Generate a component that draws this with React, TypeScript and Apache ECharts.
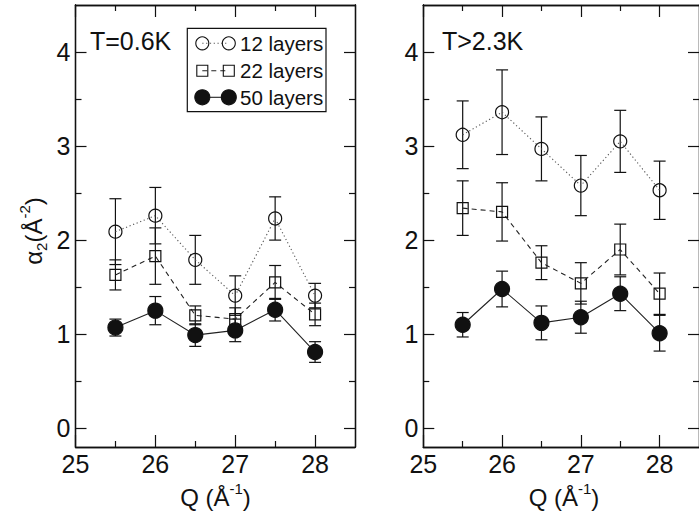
import React, { useEffect, useRef } from "react";
import * as echarts from "echarts";

const qValues = [25.5, 26, 26.5, 27, 27.5, 28];

// T = 0.6 K
const low12 = [2.09, 2.26, 1.79, 1.41, 2.23, 1.41];
const lowErr12 = [0.35, 0.3, 0.26, 0.21, 0.23, 0.13];
const low22 = [1.63, 1.83, 1.2, 1.16, 1.55, 1.21];
const lowErr22 = [0.16, 0.3, 0.1, 0.12, 0.18, 0.12];
const low50 = [1.07, 1.25, 0.99, 1.04, 1.26, 0.81];
const lowErr50 = [0.09, 0.15, 0.12, 0.12, 0.12, 0.11];

// T > 2.3 K
const high12 = [3.12, 3.36, 2.97, 2.58, 3.05, 2.53];
const highErr12 = [0.36, 0.45, 0.34, 0.32, 0.33, 0.31];
const high22 = [2.34, 2.3, 1.76, 1.54, 1.9, 1.43];
const highErr22 = [0.29, 0.31, 0.18, 0.22, 0.27, 0.22];
const high50 = [1.1, 1.48, 1.12, 1.18, 1.43, 1.01];
const highErr50 = [0.13, 0.19, 0.18, 0.17, 0.18, 0.19];

const xMajor = [25, 26, 27, 28];
const xMinor = [25.5, 26.5, 27.5];
const yMajor = [0, 1, 2, 3, 4];
const yMinor = [0.5, 1.5, 2.5, 3.5];
const panelLabels = ["T=0.6K", "T>2.3K"];
const seriesNames = ["12 layers", "22 layers", "50 layers"];

const FONT = "Liberation Sans, Arial, Helvetica, sans-serif";
const INK = "#111";

export default function App() {
  const ref = useRef<HTMLDivElement>(null);
  useEffect(() => {
    if (!ref.current) return;
    const chart = echarts.init(ref.current, undefined, { renderer: "svg" });

    const grids = [
      { left: 75.5, top: 5, width: 279.5, height: 442 },
      { left: 423.3, top: 5, width: 280, height: 442 },
    ];

    const xAxes: any[] = [];
    const yAxes: any[] = [];
    const mkX = (g: number, pos: string, ticks: number[], len: number, labels: boolean) => ({
      type: "value",
      gridIndex: g,
      position: pos,
      min: 25,
      max: 28.5,
      axisLine: { show: true, onZero: false, lineStyle: { color: INK, width: 1.3 } },
      axisTick: { show: true, inside: true, length: len, customValues: ticks, lineStyle: { color: INK, width: 1.2 } },
      axisLabel: {
        show: labels,
        customValues: ticks,
        margin: 4,
        fontSize: 25,
        fontFamily: FONT,
        color: INK,
      },
      splitLine: { show: false },
    });
    const mkY = (g: number, pos: string, ticks: number[], len: number, labels: boolean) => ({
      type: "value",
      gridIndex: g,
      position: pos,
      min: -0.2,
      max: 4.5,
      axisLine: { show: true, onZero: false, lineStyle: { color: INK, width: 1.3 } },
      axisTick: { show: true, inside: true, length: len, customValues: ticks, lineStyle: { color: INK, width: 1.2 } },
      axisLabel: {
        show: labels,
        customValues: ticks,
        margin: 5,
        fontSize: 25,
        fontFamily: FONT,
        color: INK,
      },
      splitLine: { show: false },
    });

    for (let g = 0; g < 2; g++) {
      xAxes.push(mkX(g, "bottom", xMajor, 12, true));
      xAxes.push(mkX(g, "bottom", xMinor, 6, false));
      xAxes.push(mkX(g, "top", xMajor, 12, false));
      xAxes.push(mkX(g, "top", xMinor, 6, false));
      yAxes.push(mkY(g, "left", yMajor, 11, true));
      yAxes.push(mkY(g, "left", yMinor, 6, false));
      yAxes.push(mkY(g, "right", yMajor, 11, false));
      yAxes.push(mkY(g, "right", yMinor, 6, false));
    }

    const panels = [
      { vals: [low12, low22, low50], errs: [lowErr12, lowErr22, lowErr50] },
      { vals: [high12, high22, high50], errs: [highErr12, highErr22, highErr50] },
    ];

    const styles = [
      { symbol: "circle", size: 13, fill: "rgba(0,0,0,0)", line: [1.2, 2.6] as any, lineColor: "#555" },
      { symbol: "rect", size: 11, fill: "rgba(0,0,0,0)", line: [5, 4] as any, lineColor: "#222" },
      { symbol: "circle", size: 15, fill: INK, line: "solid" as any, lineColor: "#222" },
    ];

    const series: any[] = [];
    panels.forEach((p, g) => {
      p.vals.forEach((vals, s) => {
        const errs = p.errs[s];
        series.push({
          type: "custom",
          name: seriesNames[s] + " err",
          xAxisIndex: g * 4,
          yAxisIndex: g * 4,
          data: qValues.map((q, i) => [q, vals[i] - errs[i], vals[i] + errs[i]]),
          encode: { x: 0, y: [1, 2] },
          z: 2,
          renderItem: (params: any, api: any) => {
            const x = api.value(0);
            const lo = api.coord([x, api.value(1)]);
            const hi = api.coord([x, api.value(2)]);
            const w = 6;
            const st = { stroke: INK, lineWidth: 1.2 };
            return {
              type: "group",
              children: [
                { type: "line", shape: { x1: lo[0], y1: lo[1], x2: hi[0], y2: hi[1] }, style: st },
                { type: "line", shape: { x1: hi[0] - w, y1: hi[1], x2: hi[0] + w, y2: hi[1] }, style: st },
                { type: "line", shape: { x1: lo[0] - w, y1: lo[1], x2: lo[0] + w, y2: lo[1] }, style: st },
              ],
            };
          },
        });
        const st = styles[s];
        series.push({
          type: "line",
          name: seriesNames[s],
          xAxisIndex: g * 4,
          yAxisIndex: g * 4,
          data: qValues.map((q, i) => [q, vals[i]]),
          symbol: st.symbol,
          symbolSize: st.size,
          showSymbol: true,
          z: 3,
          itemStyle: { color: st.fill, borderColor: INK, borderWidth: 1.2 },
          lineStyle: { color: st.lineColor, width: 1.1, type: st.line },
        });
      });
    });

    const legendX1 = 202.3;
    const legendX2 = 228.8;
    const rows = [43.3, 70.7, 97.3];
    const graphic: any[] = [
      {
        type: "rect",
        shape: { x: 187.3, y: 28.3, width: 138.7, height: 83.4 },
        style: { fill: "#fff", stroke: INK, lineWidth: 1.2 },
        z: 10,
      },
    ];
    rows.forEach((ry, s) => {
      const st = styles[s];
      graphic.push({
        type: "line",
        shape: { x1: legendX1, y1: ry, x2: legendX2, y2: ry },
        style: { stroke: st.lineColor, lineWidth: 1.1, lineDash: st.line === "solid" ? null : st.line },
        z: 11,
      });
      [legendX1, legendX2].forEach((cx) => {
        if (st.symbol === "circle") {
          graphic.push({
            type: "circle",
            shape: { cx, cy: ry, r: st.size / 2 },
            style: { fill: st.fill, stroke: INK, lineWidth: 1.1 },
            z: 12,
          });
        } else {
          graphic.push({
            type: "rect",
            shape: { x: cx - st.size / 2, y: ry - st.size / 2, width: st.size, height: st.size },
            style: { fill: st.fill, stroke: INK, lineWidth: 1.1 },
            z: 12,
          });
        }
      });
      graphic.push({
        type: "text",
        x: 240,
        y: ry,
        style: { text: seriesNames[s], fontSize: 20.5, fontFamily: FONT, fill: INK, verticalAlign: "middle", align: "left" },
        z: 12,
      });
    });

    graphic.push({
      type: "text",
      x: 90,
      y: 41,
      style: { text: panelLabels[0], fontSize: 25, fontFamily: FONT, fill: INK, verticalAlign: "middle", align: "left" },
    });
    graphic.push({
      type: "text",
      x: 442,
      y: 41,
      style: { text: panelLabels[1], fontSize: 25, fontFamily: FONT, fill: INK, verticalAlign: "middle", align: "left" },
    });

    const richQ = {
      a: { fontSize: 24, fontFamily: FONT, fill: INK, lineHeight: 32 },
      s: { fontSize: 15, fontFamily: FONT, fill: INK, lineHeight: 15, verticalAlign: "top" },
    };
    [215.5, 564].forEach((cx) => {
      graphic.push({
        type: "text",
        x: cx,
        y: 497,
        style: {
          text: "{a|Q (Å}{s|-1}{a|)}",
          rich: richQ,
          align: "center",
          verticalAlign: "middle",
        },
      });
    });
    graphic.push({
      type: "text",
      x: 33,
      y: 231,
      rotation: Math.PI / 2,
      style: {
        text: "{a|α}{b|2}{a|(Å}{s|-2}{a|)}",
        rich: {
          a: { fontSize: 24, fontFamily: FONT, fill: INK, lineHeight: 32 },
          b: { fontSize: 15, fontFamily: FONT, fill: INK, lineHeight: 15, verticalAlign: "bottom" },
          s: { fontSize: 15, fontFamily: FONT, fill: INK, lineHeight: 15, verticalAlign: "top" },
        },
        align: "center",
        verticalAlign: "middle",
      },
    });

    chart.setOption({
      animation: false,
      backgroundColor: "#fff",
      grid: grids,
      xAxis: xAxes,
      yAxis: yAxes,
      series,
      graphic,
    });
    return () => chart.dispose();
  }, []);
  return (
    <div
      ref={ref}
      style={{ position: "fixed", left: 0, top: 0, width: 699, height: 520, background: "#fff" }}
    />
  );
}
